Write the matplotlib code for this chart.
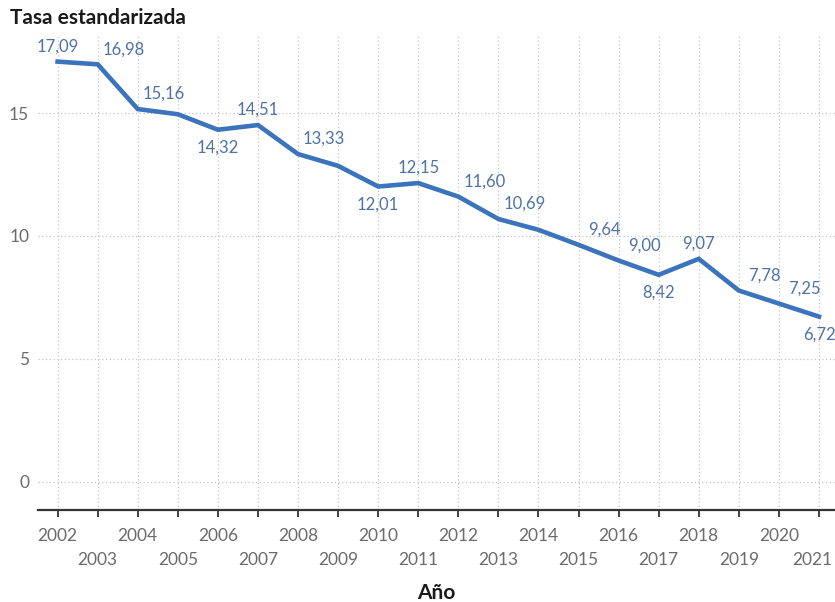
import matplotlib.pyplot as plt
import matplotlib.transforms as mtransforms
import numpy as np

plt.rcParams['font.family'] = ['Lato', 'DejaVu Sans']

# Tasa estandarizada por año
anios = list(range(2002, 2022))
tasa = [17.09, 16.98, 15.16, 14.95, 14.32, 14.51, 13.33, 12.85, 12.01, 12.15,
        11.60, 10.69, 10.25, 9.64, 9.00, 8.42, 9.07, 7.78, 7.25, 6.72]
# posición de cada etiqueta: 'up' encima, 'down' debajo, 'ur' arriba a la derecha, None sin etiqueta
pos_etiqueta = ['up', 'ur', 'ur', None, 'down', 'up', 'ur', None, 'down', 'up',
                'ur', 'ur', None, 'ur', 'ur', 'down', 'up', 'ur', 'ur', 'down']

COLOR_LINEA = '#3b74bd'
COLOR_ETIQ = '#4f72a6'
COLOR_TICK = '#6b6b6b'

fig = plt.figure(figsize=(8.35, 6.02), dpi=100)
ax = fig.add_axes([0.045, 0.153, 0.955, 0.79])

ax.plot(anios, tasa, color=COLOR_LINEA, lw=3.3, solid_joinstyle='miter', zorder=3)

offsets = {'up': (0, 7, 'center', 'bottom'),
           'down': (0, -10, 'center', 'top'),
           'ur': (26, 7, 'center', 'bottom')}
for x, y, p in zip(anios, tasa, pos_etiqueta):
    if p is None:
        continue
    dx, dy, ha, va = offsets[p]
    ax.annotate(f'{y:.2f}'.replace('.', ','), (x, y), xytext=(dx, dy),
                textcoords='offset pixels', ha=ha, va=va,
                fontsize=12, color=COLOR_ETIQ, zorder=4)

ax.set_xlim(2001.5, 2021.4)
ax.set_ylim(-1.14, 18.2)

ax.set_xticks(anios)
ax.set_xticklabels([str(a) for a in anios])
ax.set_yticks([0, 5, 10, 15])
ax.tick_params(axis='x', direction='out', length=5, width=1.3, color='#333333',
               labelsize=12.5, labelcolor=COLOR_TICK, pad=8)
ax.tick_params(axis='y', length=0, labelsize=12.5, labelcolor=COLOR_TICK, pad=6)

# años impares en una segunda fila
for a, tick in zip(anios, ax.xaxis.get_major_ticks()):
    if a % 2 == 1:
        tick.set_pad(25.5)

# el último año se desplaza un poco para que no se salga del borde
ultimo = ax.get_xticklabels()[-1]
ultimo.set_transform(ultimo.get_transform() +
                     mtransforms.ScaledTranslation(-7 / 100, 0, fig.dpi_scale_trans))

ax.grid(True, linestyle=(0, (1, 2)), color='#c4c4c4', lw=0.9)
for s in ['top', 'right', 'left']:
    ax.spines[s].set_visible(False)
ax.spines['bottom'].set_color('#333333')
ax.spines['bottom'].set_linewidth(1.6)

fig.text(0.012, 0.97, 'Tasa estandarizada', fontsize=15, fontweight='bold',
         color='#1a1a1a', ha='left', va='center')
fig.text(0.523, 0.015, 'Año', fontsize=15, fontweight='bold',
         color='#1a1a1a', ha='center', va='center')

fig.savefig('out.png', dpi=100)
